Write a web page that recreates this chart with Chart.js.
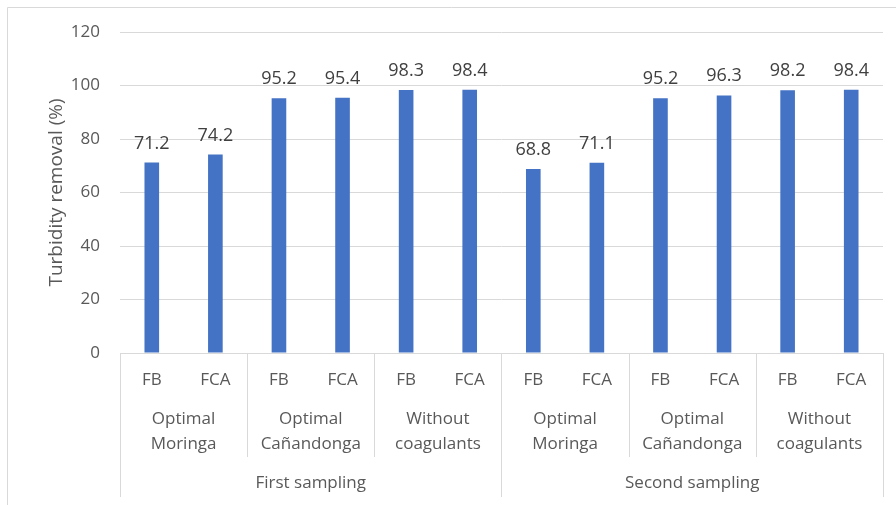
<!DOCTYPE html>
<html>
<head>
<meta charset="utf-8">
<script src="https://cdn.jsdelivr.net/npm/chart.js@4/dist/chart.umd.min.js"></script>
<style>
    body { margin: 0; background: #ffffff; }
    #holder { width: 896px; height: 505px; }
</style>
</head>
<body>
<div id="holder"><canvas id="removal" width="896" height="505"></canvas></div>
<script>
// axis levels, inner to outer
let filters = ["FB", "FCA"]
let coagulants = [["Optimal", "Moringa"], ["Optimal", "Cañandonga"], ["Without", "coagulants"]]
let samplings = ["First sampling", "Second sampling"]

// turbidity removal (%) per bar, left to right
let removal = [71.2, 74.2, 95.2, 95.4, 98.3, 98.4, 68.8, 71.1, 95.2, 96.3, 98.2, 98.4]

let yTicks = { min: 0, max: 120, step: 20 }

let labels = []
samplings.forEach(function(s){
    coagulants.forEach(function(c){
        filters.forEach(function(f){
            labels.push(f)
        })
    })
})

let textGrey = "#595959"
let lineGrey = "#d9d9d9"
let fontFamily = "'Open Sans', sans-serif"

// frame, value labels and the three-level category axis
let extras = {
    id: "extras",
    beforeDraw: function(chart){
        let ctx = chart.ctx
        ctx.save()
        ctx.strokeStyle = lineGrey
        ctx.lineWidth = 1
        ctx.beginPath()
        ctx.moveTo(7.5, 505)
        ctx.lineTo(7.5, 7.5)
        ctx.lineTo(896, 7.5)
        ctx.stroke()
        ctx.restore()
    },
    afterDatasetsDraw: function(chart){
        let ctx = chart.ctx
        let area = chart.chartArea
        let x = chart.scales.x
        let meta = chart.getDatasetMeta(0)
        let slot = (area.right - area.left) / labels.length
        let bottom = area.bottom

        ctx.save()
        ctx.font = "18px " + fontFamily
        ctx.textAlign = "center"
        ctx.textBaseline = "alphabetic"
        ctx.fillStyle = "#404040"
        meta.data.forEach(function(bar, i){
            ctx.fillText(removal[i].toFixed(1), bar.x, bar.y - 14)
        })

        // separators
        ctx.strokeStyle = lineGrey
        ctx.lineWidth = 1
        let perSampling = coagulants.length * filters.length
        for (let i = 0; i <= labels.length; i += filters.length){
            let px = Math.round(x.getPixelForValue(i) - slot / 2) + 0.5
            if (i == labels.length) px = Math.round(x.getPixelForValue(i - 1) + slot / 2) + 0.5
            let long = i % perSampling == 0
            ctx.beginPath()
            ctx.moveTo(px, bottom)
            ctx.lineTo(px, long ? bottom + 144 : bottom + 104)
            ctx.stroke()
        }

        ctx.font = "17px " + fontFamily
        ctx.fillStyle = textGrey
        ctx.textBaseline = "middle"
        labels.forEach(function(l, i){
            ctx.fillText(l, x.getPixelForValue(i), bottom + 27)
        })
        for (let s = 0; s < samplings.length; s++){
            for (let c = 0; c < coagulants.length; c++){
                let first = s * perSampling + c * filters.length
                let cx = (x.getPixelForValue(first) + x.getPixelForValue(first + filters.length - 1)) / 2
                ctx.fillText(coagulants[c][0], cx, bottom + 66)
                ctx.fillText(coagulants[c][1], cx, bottom + 91)
            }
            let a = x.getPixelForValue(s * perSampling)
            let b = x.getPixelForValue(s * perSampling + perSampling - 1)
            ctx.fillText(samplings[s], (a + b) / 2, bottom + 130)
        }
        ctx.restore()
    }
}

let chart = new Chart(
    document.querySelector("#removal"),
    {
        type: "bar",
        data: {
            labels: labels,
            datasets: [{
                data: removal,
                backgroundColor: "#4472c4",
                borderWidth: 0,
                categoryPercentage: 1,
                barPercentage: 0.23
            }]
        },
        options: {
            responsive: false,
            animation: false,
            layout: { padding: { top: 32, right: 13, left: 0, bottom: 0 } },
            plugins: {
                legend: { display: false },
                tooltip: { enabled: false }
            },
            scales: {
                x: {
                    ticks: { display: false },
                    grid: { display: false },
                    border: { display: false },
                    afterFit: function(scale){ scale.height = 152 }
                },
                y: {
                    min: yTicks.min,
                    max: yTicks.max,
                    ticks: {
                        stepSize: yTicks.step,
                        color: textGrey,
                        padding: 20,
                        font: { family: fontFamily, size: 17 }
                    },
                    grid: { color: lineGrey, drawTicks: false },
                    border: { display: false },
                    title: {
                        display: true,
                        text: "Turbidity removal (%)",
                        color: textGrey,
                        padding: { top: 45, bottom: 0 },
                        font: { family: fontFamily, size: 19 }
                    },
                    afterFit: function(scale){ scale.width = 120 }
                }
            }
        },
        plugins: [extras]
    }
)
</script>
</body>
</html>
